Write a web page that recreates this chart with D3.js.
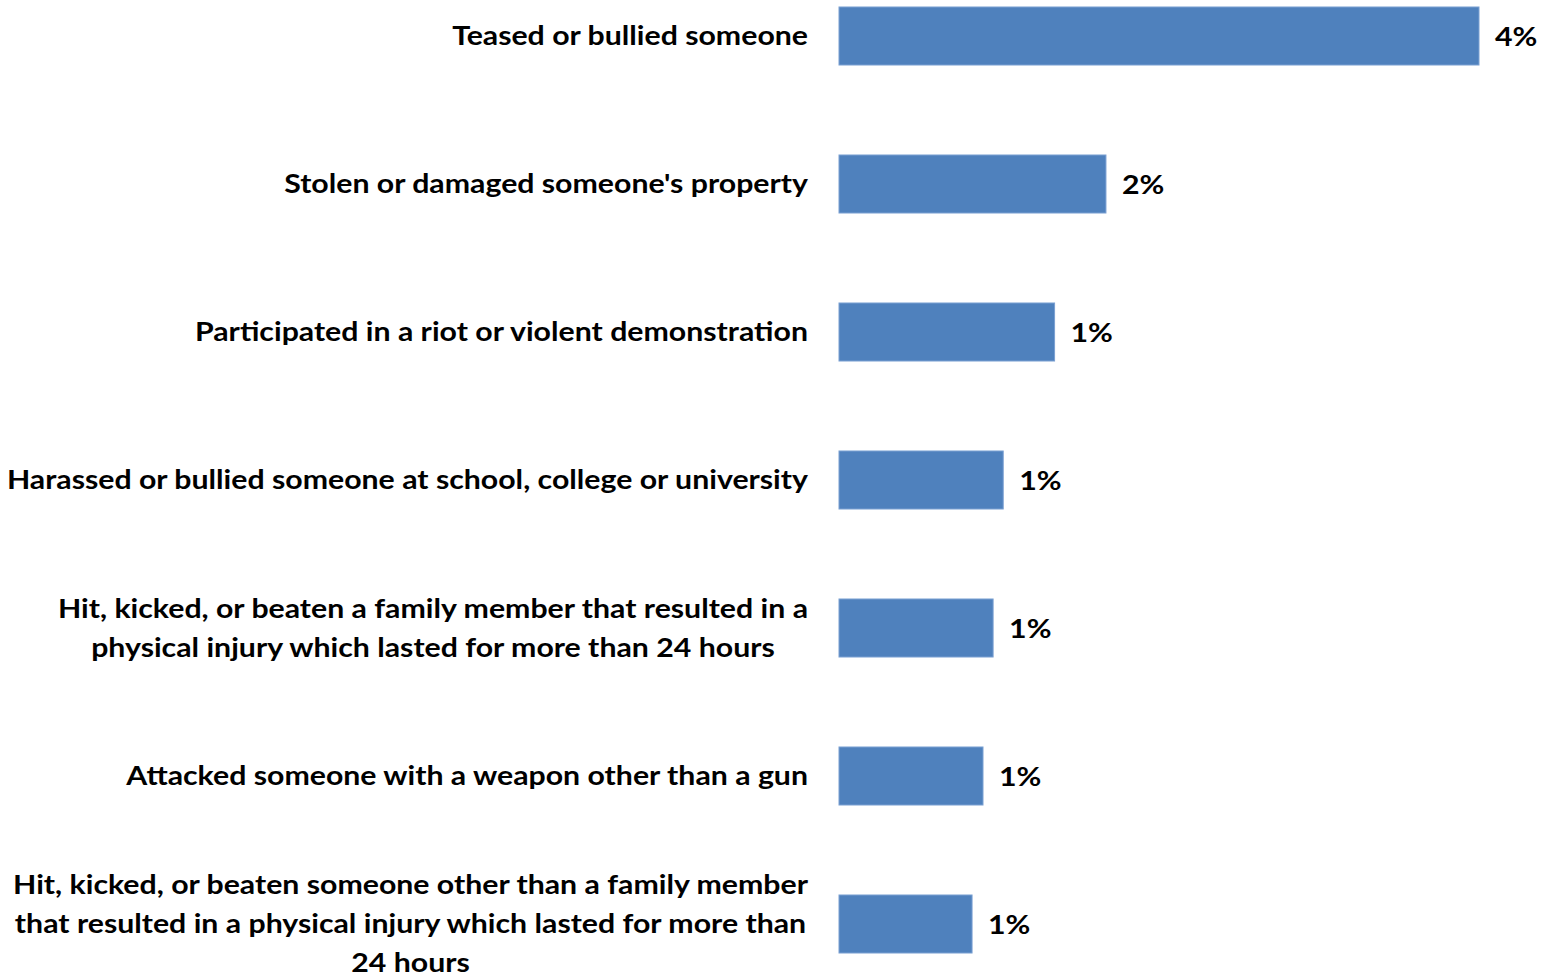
<!DOCTYPE html>
<html><head><meta charset="utf-8">
<script src="https://cdn.jsdelivr.net/npm/d3@7"></script>
<style>body{margin:0;background:#fff}svg{display:block}</style>
</head><body>
<script>
const categories = [
  "Teased or bullied someone",
  "Stolen or damaged someone's property",
  "Participated in a riot or violent demonstration",
  "Harassed or bullied someone at school, college or university",
  "Hit, kicked, or beaten a family member that resulted in a|physical injury which lasted for more than 24 hours",
  "Attacked someone with a weapon other than a gun",
  "Hit, kicked, or beaten someone other than a family member|that resulted in a physical injury which lasted for more than|24 hours"
];
const values = [3.8, 1.585, 1.28, 0.975, 0.915, 0.855, 0.79];
const valueLabels = ["4%", "2%", "1%", "1%", "1%", "1%", "1%"];

const W = 1541, H = 976;
const svg = d3.select("body").append("svg").attr("width", W).attr("height", H);
const font = "Lato, 'Open Sans', sans-serif";
const fs = 27;

const x = d3.scaleLinear().domain([0, 3.8]).range([839, 1479]);
const y = d3.scaleBand().domain(categories).range([-38, 998]).paddingInner(0.608).paddingOuter(0.304);

// horizontal stretch so the substitute font matches the reference's wider face
const probe = svg.append("text").attr("font-family", font).attr("font-weight", "bold")
  .attr("font-size", fs).text(categories[0]);
const stretch = 356 / probe.node().getComputedTextLength();
probe.remove();

const g = svg.append("g");
g.selectAll("rect").data(categories).join("rect")
  .attr("x", x(0)).attr("y", d => y(d))
  .attr("width", (d, i) => x(values[i]) - x(0))
  .attr("height", y.bandwidth())
  .attr("fill", "#4f81bd").attr("stroke", "#7aa0d2").attr("stroke-width", 1);

g.selectAll("text.val").data(categories).join("text").attr("class", "val")
  .attr("x", (d, i) => x(values[i]) + 16)
  .attr("y", d => y(d) + y.bandwidth() / 2 + 1)
  .attr("dy", "0.35em")
  .attr("transform", (d, i) => { const ax = x(values[i]) + 16; return `translate(${ax},0) scale(${stretch},1) translate(${-ax},0)`; })
  .attr("font-family", font).attr("font-weight", "bold").attr("font-size", fs)
  .attr("fill", "#000")
  .text((d, i) => valueLabels[i]);

// category labels: block right-aligned at 808, lines centered within block
const labelRight = 808, lineH = 39;
const lg = svg.append("g");
categories.forEach((c, i) => {
  const lines = c.split("|");
  const cy = y(c) + y.bandwidth() / 2;
  const t = lg.append("text")
    .attr("font-family", font).attr("font-weight", "bold").attr("font-size", fs)
    .attr("fill", "#000")
    .attr("transform", `translate(${labelRight},0) scale(${stretch},1) translate(${-labelRight},0)`);
  const spans = lines.map((ln, k) => t.append("tspan").text(ln)
    .attr("y", cy + (k - (lines.length - 1) / 2) * lineH).attr("dy", "0.35em"));
  const widths = spans.map(s => s.node().getComputedTextLength());
  const maxW = d3.max(widths);
  spans.forEach(s => s.attr("x", labelRight - maxW / 2).attr("text-anchor", "middle"));
});
</script>
</body></html>
